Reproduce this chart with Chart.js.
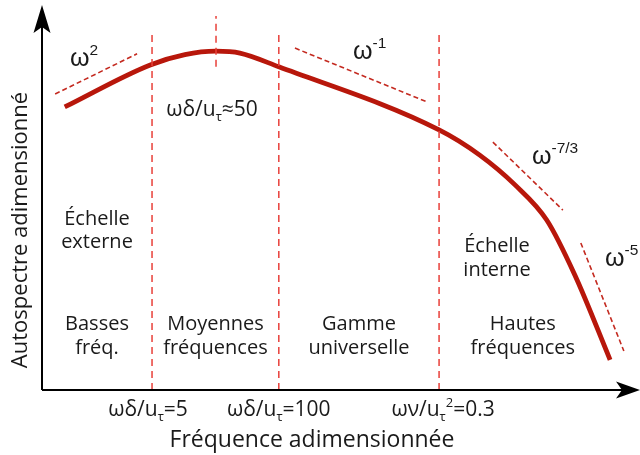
<!DOCTYPE html>
<html>
<head>
<meta charset="utf-8">
<script src="https://cdn.jsdelivr.net/npm/chart.js@4.4.1/dist/chart.umd.min.js"></script>
<style>
html, body { margin: 0; padding: 0; background: #fff; }
#wrap { width: 640px; height: 455px; }
</style>
</head>
<body>
<div id="wrap"><canvas id="chart" width="640" height="455"></canvas></div>
<script>
// schematic units: x ~ log frequency (0..10), y ~ log autospectrum (0..10)
const curveX = [0.38, 1.81, 2.39, 2.91, 3.31, 3.96, 6.64, 7.32, 7.91, 8.44, 8.91, 9.50];
const curveY = [7.41, 8.51, 8.78, 8.87, 8.82, 8.46, 6.81, 6.15, 5.37, 4.45, 3.01, 0.79];

// asymptotic slopes
const slopeW2X = [0.22, 1.59], slopeW2Y = [7.75, 8.80];
const slopeW1X = [4.23, 6.44], slopeW1Y = [8.95, 7.54];
const slopeW73X = [7.54, 8.71], slopeW73Y = [6.49, 4.71];
const slopeW5X = [9.01, 9.73], slopeW5Y = [3.85, 1.02];

// region boundaries
const boundX = [1.84, 3.96, 6.64];
const boundY = [0, 9.37];
const peakX = 2.91;
const peakY = [8.46, 9.79];

const regionNames = [['Basses', 'fréq.'], ['Moyennes', 'fréquences'], ['Gamme', 'universelle'], ['Hautes', 'fréquences']];
const regionCenterX = [0.92, 2.90, 5.30, 8.04];

const CURVE_RED = '#b8170b';
const SLOPE_RED = '#c42a20';
const BOUND_RED = '#e8403a';
const INK = '#1a1a1a';
const FONT = "'Open Sans', 'Noto Sans', sans-serif";

function pts(xs, ys) {
    return xs.map((x, i) => ({ x: x, y: ys[i] }));
}

function slopeSet(xs, ys) {
    return { data: pts(xs, ys), borderColor: SLOPE_RED, borderWidth: 1.6, borderDash: [5, 3], pointRadius: 0, tension: 0 };
}

function boundSet(x, ys) {
    return { data: pts([x, x], ys), borderColor: BOUND_RED, borderWidth: 1.5, borderDash: [7, 5], pointRadius: 0, tension: 0 };
}

const datasets = [
    boundSet(boundX[0], boundY),
    boundSet(boundX[1], boundY),
    boundSet(boundX[2], boundY),
    boundSet(peakX, peakY),
    slopeSet(slopeW2X, slopeW2Y),
    slopeSet(slopeW1X, slopeW1Y),
    slopeSet(slopeW73X, slopeW73Y),
    slopeSet(slopeW5X, slopeW5Y),
    { data: pts(curveX, curveY), borderColor: CURVE_RED, borderWidth: 4.8, pointRadius: 0, cubicInterpolationMode: 'monotone', borderCapStyle: 'butt' }
];

// draws text made of pieces, some raised (sup) or lowered (sub)
function richText(ctx, parts, x, y, size, align) {
    let total = 0;
    parts.forEach(p => {
        ctx.font = (p.sup || p.sub ? size * 0.62 : size) + 'px ' + (p.family || FONT);
        p.w = ctx.measureText(p.t).width;
        total += p.w;
    });
    let cx = align === 'center' ? x - total / 2 : x;
    parts.forEach(p => {
        const s = p.sup || p.sub ? size * 0.62 : size;
        ctx.font = s + 'px ' + (p.family || FONT);
        let dy = 0;
        if (p.sup) dy = -size * 0.45;
        if (p.sub) dy = size * 0.22;
        ctx.fillText(p.t, cx, y + dy);
        cx += p.w;
    });
}

const decor = {
    id: 'decor',
    afterDraw(chart) {
        const ctx = chart.ctx;
        const xs = chart.scales.x, ys = chart.scales.y;
        const X = v => xs.getPixelForValue(v);
        const Y = v => ys.getPixelForValue(v);
        const ox = X(0), oy = Y(0);
        ctx.save();

        // axes with arrowheads
        ctx.strokeStyle = '#000';
        ctx.fillStyle = '#000';
        ctx.lineWidth = 2;
        ctx.beginPath();
        ctx.moveTo(ox, oy);
        ctx.lineTo(ox, chart.chartArea.top + 10);
        ctx.moveTo(ox, oy);
        ctx.lineTo(chart.chartArea.right - 10, oy);
        ctx.stroke();

        const top = chart.chartArea.top - 3;
        ctx.beginPath();
        ctx.moveTo(ox, top);
        ctx.lineTo(ox + 8.5, top + 28);
        ctx.lineTo(ox, top + 22);
        ctx.lineTo(ox - 8.5, top + 28);
        ctx.closePath();
        ctx.fill();

        const right = chart.chartArea.right;
        ctx.beginPath();
        ctx.moveTo(right, oy);
        ctx.lineTo(right - 24, oy - 8.5);
        ctx.lineTo(right - 18, oy);
        ctx.lineTo(right - 24, oy + 8.5);
        ctx.closePath();
        ctx.fill();

        ctx.fillStyle = INK;
        ctx.textBaseline = 'alphabetic';
        ctx.textAlign = 'left';

        // axis titles
        richText(ctx, [{ t: 'Fréquence adimensionnée' }], 312, 447, 23, 'center');
        ctx.save();
        ctx.translate(27, 230);
        ctx.rotate(-Math.PI / 2);
        richText(ctx, [{ t: 'Autospectre adimensionné' }], 0, 0, 22, 'center');
        ctx.restore();

        // boundary labels under the axis
        richText(ctx, [{ t: 'ωδ/u' }, { t: 'τ', sub: true }, { t: '=5' }], X(boundX[0]) - 4, 416, 21, 'center');
        richText(ctx, [{ t: 'ωδ/u' }, { t: 'τ', sub: true }, { t: '=100' }], X(boundX[1]), 416, 21, 'center');
        richText(ctx, [{ t: 'ων/u' }, { t: 'τ', sub: true }, { t: '2', sup: true }, { t: '=0.3' }], X(boundX[2]) + 4, 416, 21, 'center');
        richText(ctx, [{ t: 'ωδ/u' }, { t: 'τ', sub: true }, { t: '≈50' }], 212, 116, 21, 'center');

        // region names
        regionNames.forEach((lines, i) => {
            richText(ctx, [{ t: lines[0] }], X(regionCenterX[i]), 330, 20, 'center');
            richText(ctx, [{ t: lines[1] }], X(regionCenterX[i]), 354, 20, 'center');
        });
        richText(ctx, [{ t: 'Échelle' }], 97, 225, 20, 'center');
        richText(ctx, [{ t: 'externe' }], 97, 248, 20, 'center');
        richText(ctx, [{ t: 'Échelle' }], 497, 252, 20, 'center');
        richText(ctx, [{ t: 'interne' }], 497, 276, 20, 'center');

        // slope exponents
        const SANS = "'Liberation Sans', Arial, sans-serif";
        richText(ctx, [{ t: 'ω', family: SANS }, { t: '2', sup: true, family: SANS }], 70, 66, 25, 'left');
        richText(ctx, [{ t: 'ω', family: SANS }, { t: '-1', sup: true, family: SANS }], 353, 59, 25, 'left');
        richText(ctx, [{ t: 'ω', family: SANS }, { t: '-7/3', sup: true, family: SANS }], 532, 164, 25, 'left');
        richText(ctx, [{ t: 'ω', family: SANS }, { t: '-5', sup: true, family: SANS }], 605, 266, 25, 'left');

        ctx.restore();
    }
};

new Chart(document.getElementById('chart'), {
    type: 'line',
    data: { datasets: datasets },
    options: {
        responsive: false,
        animation: false,
        events: [],
        layout: { padding: { left: 42, right: 0, top: 8, bottom: 65 } },
        scales: {
            x: { type: 'linear', min: 0, max: 10, display: false },
            y: { type: 'linear', min: 0, max: 10, display: false }
        },
        plugins: { legend: { display: false }, tooltip: { enabled: false } }
    },
    plugins: [decor]
});
</script>
</body>
</html>
